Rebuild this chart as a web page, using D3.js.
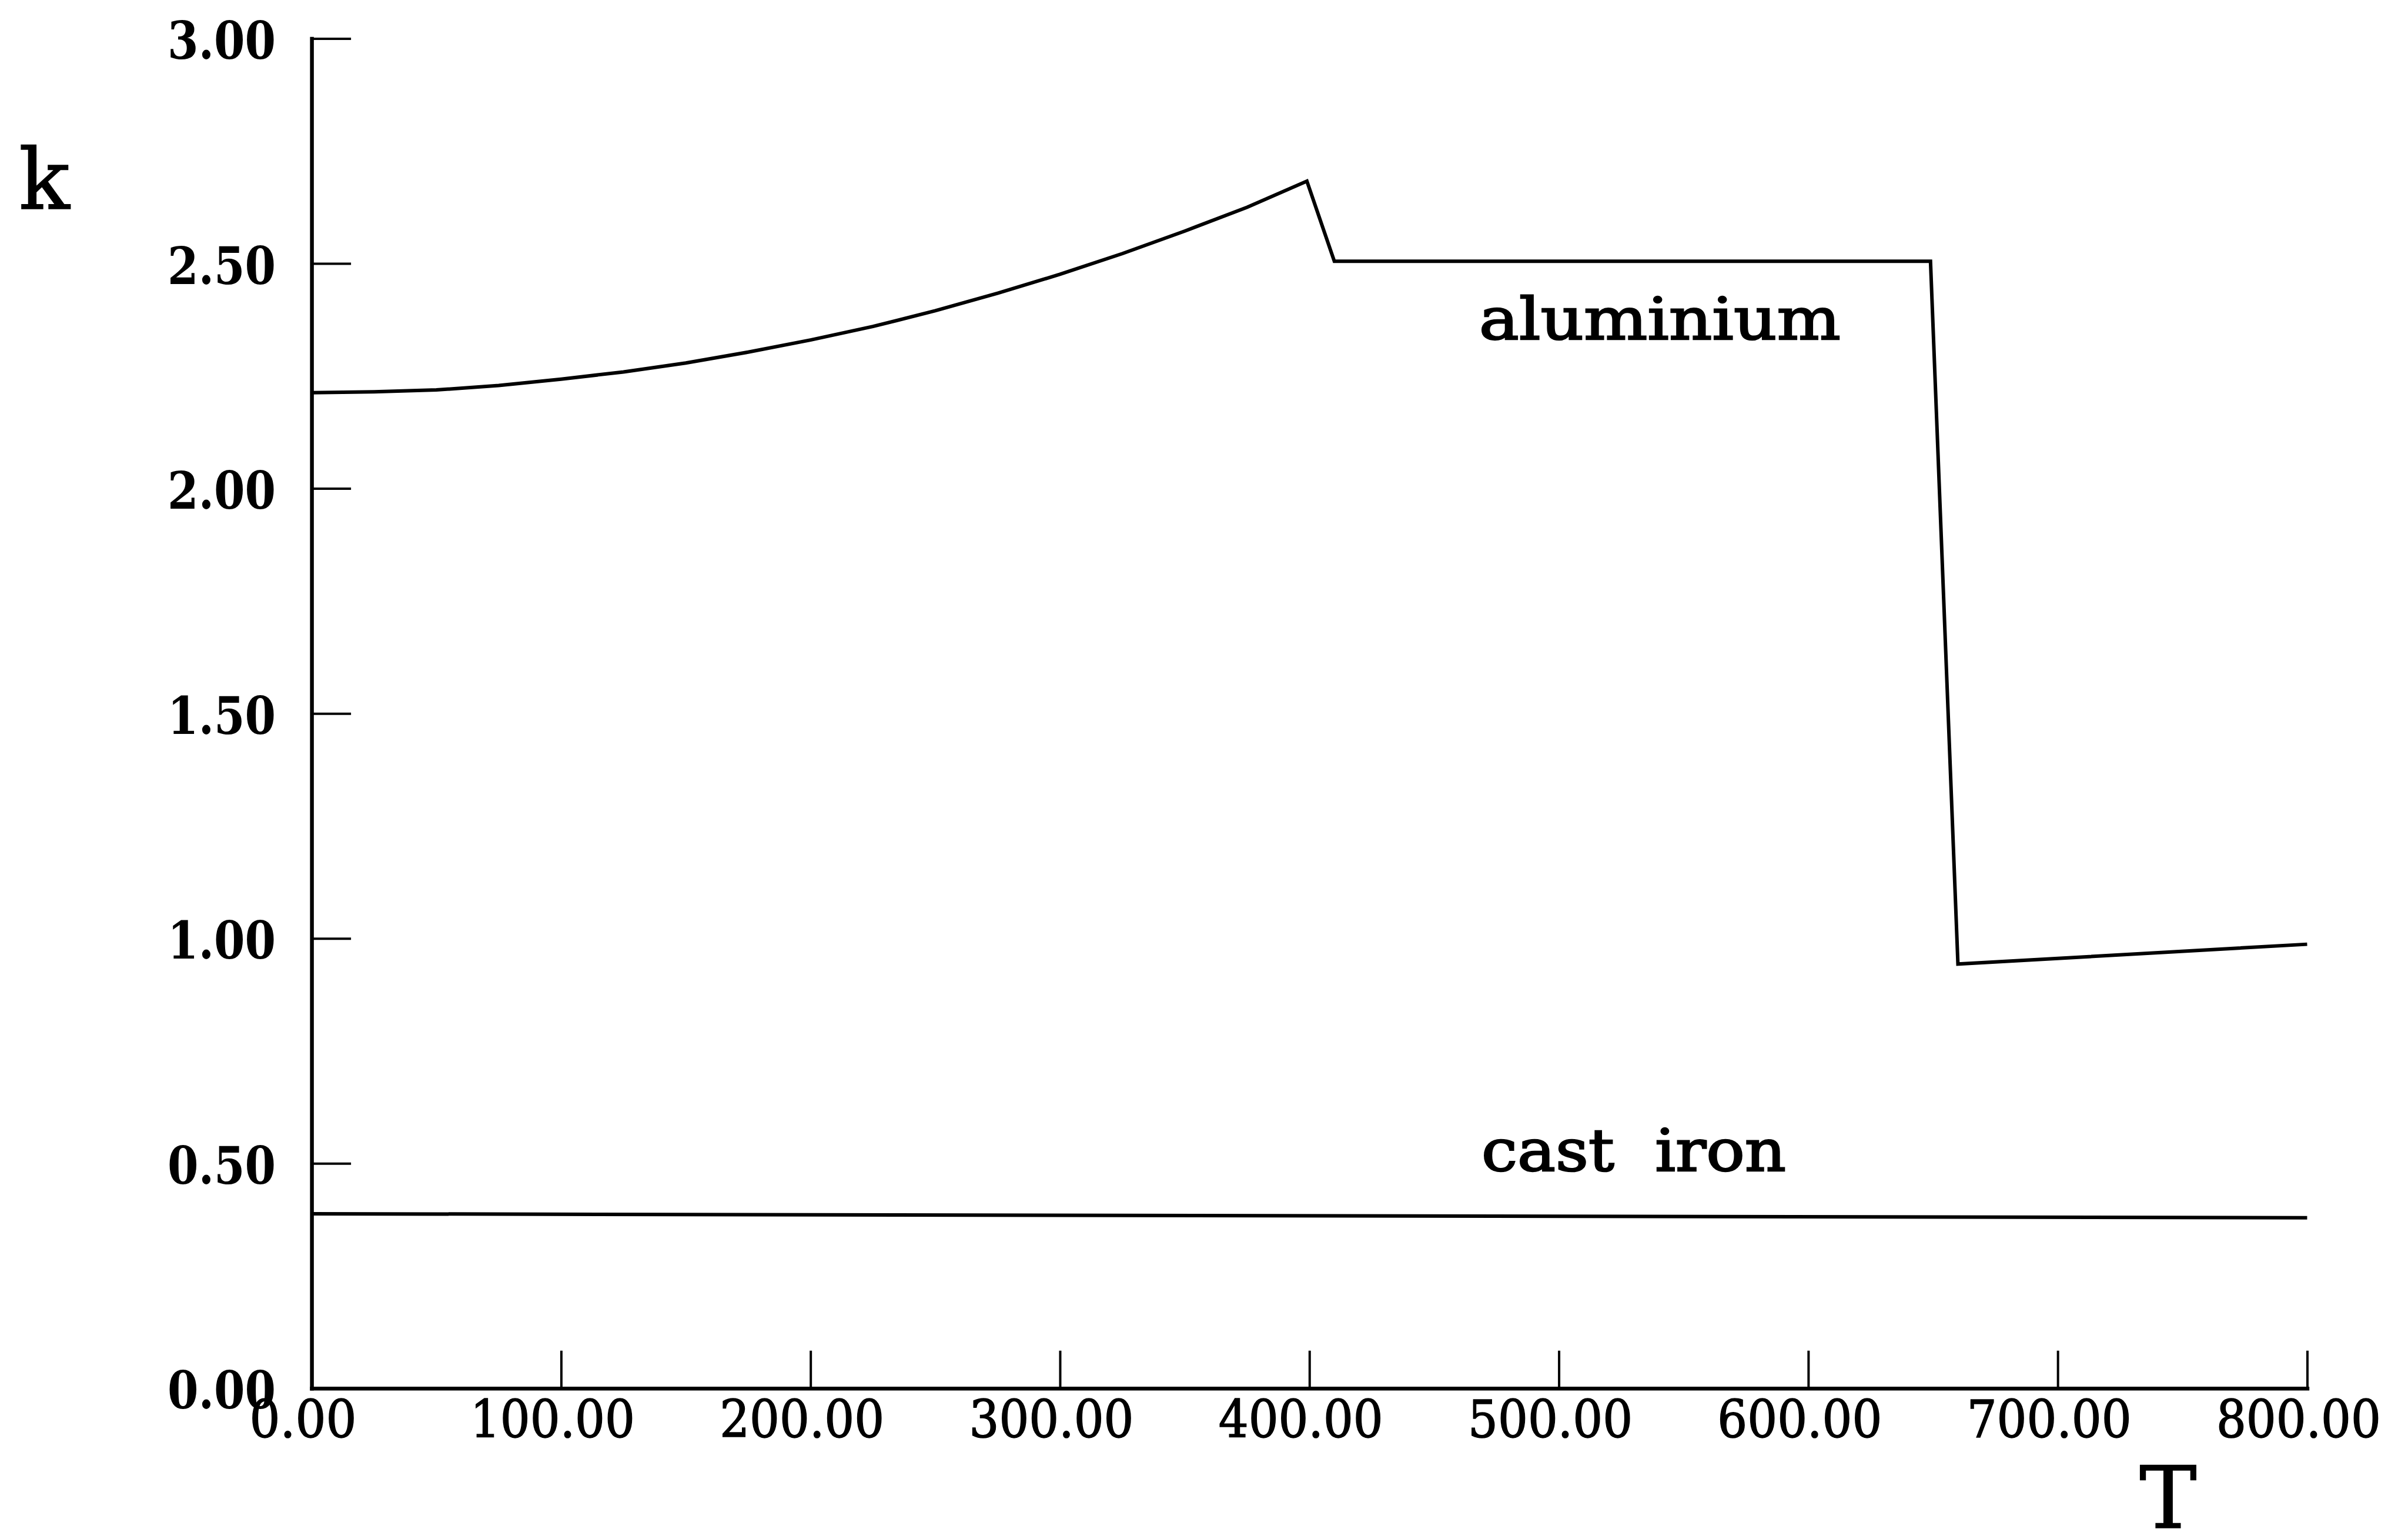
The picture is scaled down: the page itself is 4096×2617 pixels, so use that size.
<!DOCTYPE html>
<html>
<head>
<meta charset="utf-8">
<script src="https://cdn.jsdelivr.net/npm/d3@7"></script>
<style>
  body { margin: 0; background: #fff; }
  svg { display: block; background: #fff; }
</style>
</head>
<body>
<svg id="chart" width="4096" height="2617"></svg>
<script>
// values: temperature T, conductivity k
const aluminiumT = [0, 25, 50, 75, 100, 125, 150, 175, 200, 225, 250, 275, 300, 325, 350, 375, 399, 410, 649, 660, 800];
const aluminiumK = [2.213, 2.215, 2.219, 2.229, 2.243, 2.259, 2.279, 2.303, 2.330, 2.360, 2.395, 2.434, 2.476, 2.522, 2.572, 2.625, 2.683, 2.505, 2.505, 0.943, 0.987];
const castIronT = [0, 800];
const castIronK = [0.388, 0.379];

const xTicks = [0, 100, 200, 300, 400, 500, 600, 700, 800];
const yTicks = [0, 0.5, 1.0, 1.5, 2.0, 2.5, 3.0];

// curve names and where they sit, in data units
const labelNames = ["aluminium", "cast  iron"];
const labelT = [468, 469];
const labelK = [2.331, 0.483];

const S = 0.95; // reference -> window
const font = "'DejaVu Serif', 'Liberation Serif', serif";

const svg = d3.select("#chart");

const x = d3.scaleLinear().domain([0, 800]).range([558 * S, 4131 * S]);
const y = d3.scaleLinear().domain([0, 3]).range([2485 * S, 69 * S]);

const fmt = d3.format(".2f");

// x axis, ticks pointing up into the plot
const gx = svg.append("g")
    .attr("transform", `translate(0,${y(0)})`)
    .call(d3.axisBottom(x)
        .tickValues(xTicks)
        .tickFormat(fmt)
        .tickSizeInner(-64)
        .tickSizeOuter(0)
        .tickPadding(0));

gx.attr("font-family", font).attr("font-size", 87);
gx.select(".domain").attr("stroke", "#000").attr("stroke-width", 6.5).attr("stroke-linecap", "square");
gx.selectAll(".tick line").attr("stroke", "#000").attr("stroke-width", 4);
gx.selectAll(".tick text")
    .attr("fill", "#000")
    .attr("x", -15)
    .attr("y", 83)
    .attr("dy", null)
    .attr("stroke", "#000")
    .attr("stroke-width", 1.6)
    .attr("textLength", d => d === 0 ? 182 : 280)
    .attr("lengthAdjust", "spacingAndGlyphs");

// y axis, ticks pointing right
const gy = svg.append("g")
    .attr("transform", `translate(${x(0)},0)`)
    .call(d3.axisLeft(y)
        .tickValues(yTicks)
        .tickFormat(fmt)
        .tickSizeInner(-67)
        .tickSizeOuter(0)
        .tickPadding(61));

gy.attr("font-family", font).attr("font-size", 87);
gy.select(".domain").attr("stroke", "#000").attr("stroke-width", 6.5).attr("stroke-linecap", "square");
gy.selectAll(".tick line").attr("stroke", "#000").attr("stroke-width", 4);
gy.selectAll(".tick text")
    .attr("fill", "#000")
    .attr("dy", 34)
    .attr("font-weight", "bold")
    .attr("textLength", 184)
    .attr("lengthAdjust", "spacingAndGlyphs");

// curves
const line = d3.line()
    .x(d => x(d[0]))
    .y(d => y(d[1]));

const series = [
    d3.zip(aluminiumT, aluminiumK),
    d3.zip(castIronT, castIronK)
];

svg.selectAll("path.curve")
    .data(series)
    .enter()
    .append("path")
    .attr("class", "curve")
    .attr("d", line)
    .attr("fill", "none")
    .attr("stroke", "#000")
    .attr("stroke-width", 6)
    .attr("stroke-linejoin", "miter");

// curve labels
svg.selectAll("text.name")
    .data(labelNames)
    .enter()
    .append("text")
    .attr("class", "name")
    .attr("x", (d, i) => x(labelT[i]))
    .attr("y", (d, i) => y(labelK[i]))
    .attr("font-family", font)
    .attr("font-size", 100)
    .attr("fill", "#000")
    .attr("stroke", "#000")
    .attr("stroke-width", 2.6)
    .style("white-space", "pre")
    .attr("textLength", (d, i) => i === 0 ? 615 : 518)
    .attr("lengthAdjust", "spacingAndGlyphs")
    .text(d => d);

// axis titles
svg.append("text")
    .attr("x", 32)
    .attr("y", 374 * S)
    .attr("font-family", font)
    .attr("font-size", 143)
    .attr("fill", "#000")
    .attr("stroke", "#000")
    .attr("stroke-width", 1.5)
    .text("k");

svg.append("text")
    .attr("x", 3688)
    .attr("y", 2735 * S)
    .attr("text-anchor", "middle")
    .attr("font-family", font)
    .attr("font-size", 146)
    .attr("fill", "#000")
    .attr("stroke", "#000")
    .attr("stroke-width", 1.5)
    .text("T");
</script>
</body>
</html>
